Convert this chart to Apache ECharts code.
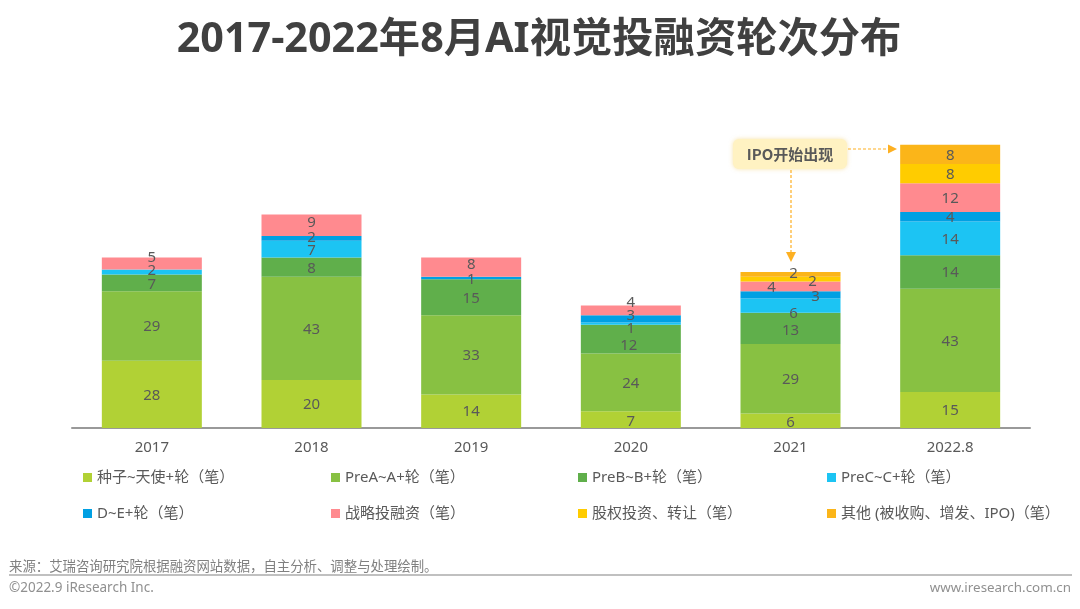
<!DOCTYPE html>
<html>
<head>
<meta charset="utf-8">
<style>
  html, body { margin: 0; padding: 0; background: #fff; }
  #chart { width: 1080px; height: 609px; }
</style>
<script src="https://cdn.jsdelivr.net/npm/echarts@6/dist/echarts.min.js"></script>
</head>
<body>
<div id="chart"></div>
<script>
const categories = ['2017', '2018', '2019', '2020', '2021', '2022.8'];
const seriesNames = ['种子~天使+轮（笔）', 'PreA~A+轮（笔）', 'PreB~B+轮（笔）', 'PreC~C+轮（笔）',
  'D~E+轮（笔）', '战略投融资（笔）', '股权投资、转让（笔）', '其他 (被收购、增发、IPO)（笔）'];
const seed = [28, 20, 14, 7, 6, 15];
const preA = [29, 43, 33, 24, 29, 43];
const preB = [7, 8, 15, 12, 13, 14];
const preC = [2, 7, null, 1, 6, 14];
const dToE = [null, 2, 1, 3, 3, 4];
const strategic = [5, 9, 8, 4, 4, 12];
const equity = [null, null, null, null, 2, 8];
const other = [null, null, null, null, 2, 8];
const seriesValues = [seed, preA, preB, preC, dToE, strategic, equity, other];

const colors = ['#B1D135', '#88C142', '#60AF4B', '#1CC4F3', '#00A0E3', '#FF8A8F', '#FFCC00', '#FBB519'];

// labels in the original are hand-placed, [series, category]: [dx, dy]
const labelNudges = {
  '5,0': [0, -7], '3,0': [0, -2], '2,0': [0, 1],
  '5,1': [0, -3], '4,1': [0, -2], '3,1': [0, 1], '2,1': [0, 1],
  '5,2': [0, -3], '4,2': [0, 1], '2,2': [0, 1],
  '5,3': [0, -9], '4,3': [0, -4], '3,3': [0, 4], '2,3': [-2, 6], '0,3': [0, 1],
  '7,4': [3, -2], '6,4': [22, 2], '5,4': [-19, 0], '4,4': [25, 1], '3,4': [3, 7], '2,4': [0, 1], '0,4': [0, 1]
};

// legend grid
const legendCols = [83, 331, 578, 827];
const legendRows = [470, 506];

const textColor = '#595959';
const fontFamily = '"Noto Sans", "Noto Sans CJK SC", sans-serif';
const arrowColor = '#FDB022';

const chart = echarts.init(document.getElementById('chart'));

const series = seriesNames.map((name, s) => ({
  name,
  type: 'bar',
  stack: 'total',
  barWidth: 100,
  itemStyle: { color: colors[s] },
  label: { show: true, position: 'inside', color: textColor, fontSize: 15, fontFamily },
  data: seriesValues[s].map((v, c) => {
    const nudge = labelNudges[s + ',' + c] || [0, 0];
    return { value: v, label: { offset: [nudge[0], nudge[1] + 1] } };
  })
}));

const legends = seriesNames.map((name, i) => ({
  data: [name],
  left: legendCols[i % 4],
  top: legendRows[Math.floor(i / 4)],
  icon: 'rect',
  itemWidth: 9,
  itemHeight: 9,
  padding: 0,
  selectedMode: false,
  textStyle: { color: textColor, fontSize: 15, fontFamily }
}));

chart.setOption({
  animation: false,
  title: [
    {
      text: '2017-2022年8月AI视觉投融资轮次分布',
      left: 539, top: 20, textAlign: 'center', padding: 0,
      textStyle: { color: '#404040', fontSize: 41.3, fontWeight: 'bold', fontFamily }
    },
    {
      text: '来源：艾瑞咨询研究院根据融资网站数据，自主分析、调整与处理绘制。',
      left: 9, top: 560, padding: 0,
      textStyle: { color: '#808080', fontSize: 13.4, fontWeight: 'normal', fontFamily }
    },
    {
      text: '©2022.9 iResearch Inc.',
      left: 9, top: 581, padding: 0,
      textStyle: { color: '#909090', fontSize: 13.5, fontWeight: 'normal', fontFamily }
    },
    {
      text: 'www.iresearch.com.cn',
      right: 9, top: 581, padding: 0,
      textStyle: { color: '#909090', fontSize: 13.4, fontWeight: 'normal', fontFamily }
    }
  ],
  legend: legends,
  grid: { left: 72, top: 140, width: 958, height: 288 },
  xAxis: {
    type: 'category',
    data: categories,
    axisTick: { show: false },
    axisLine: { lineStyle: { color: '#999999', width: 2 } },
    axisLabel: { color: textColor, fontSize: 15, margin: 12, fontFamily }
  },
  yAxis: { type: 'value', min: 0, max: 120, show: false, splitLine: { show: false } },
  series,
  graphic: [
    { type: 'rect', shape: { x: 733, y: 139, width: 114, height: 30, r: 6 },
      style: { fill: '#FFF2C2', shadowBlur: 4, shadowColor: 'rgba(240,200,90,0.5)' }, z: 10 },
    { type: 'text', style: { x: 790, y: 154, text: 'IPO开始出现', align: 'center', verticalAlign: 'middle',
      fill: textColor, font: 'bold 15px "Noto Sans CJK SC", sans-serif' }, z: 11 },
    { type: 'line', shape: { x1: 791, y1: 170, x2: 791, y2: 253 },
      style: { stroke: arrowColor, lineWidth: 1.2, lineDash: [3, 2] }, z: 10 },
    { type: 'polygon', shape: { points: [[786, 252], [796, 252], [791, 262]] },
      style: { fill: arrowColor }, z: 10 },
    { type: 'line', shape: { x1: 848, y1: 149, x2: 888, y2: 149 },
      style: { stroke: arrowColor, lineWidth: 1.2, lineDash: [3, 2] }, z: 10 },
    { type: 'polygon', shape: { points: [[888, 144.5], [888, 153.5], [897, 149]] },
      style: { fill: arrowColor }, z: 10 },
    { type: 'line', shape: { x1: 9, y1: 575, x2: 1072, y2: 575 },
      style: { stroke: '#ABABAB', lineWidth: 1.5 } }
  ]
});
</script>
</body>
</html>
